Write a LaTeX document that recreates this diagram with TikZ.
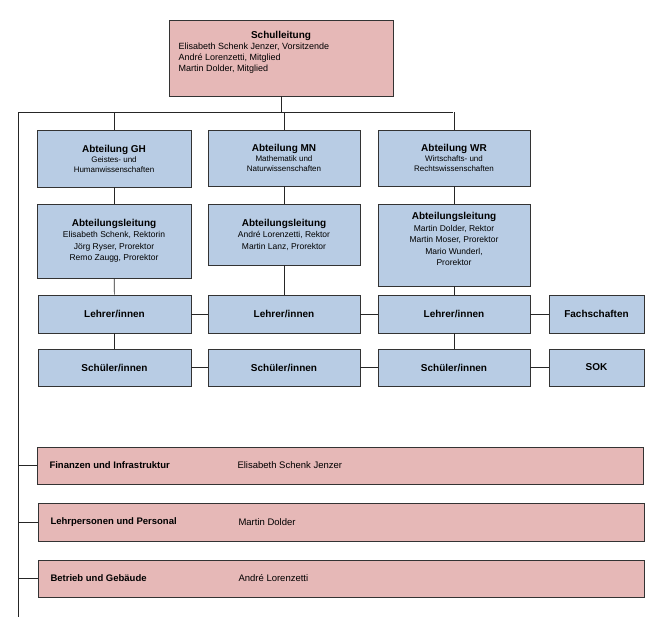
\documentclass[tikz,border=0pt]{standalone}
\usepackage{fontspec}
\setmainfont{Liberation Sans}
\begin{document}
\begin{tikzpicture}[x=1pt,y=-1pt,
 bx/.style={draw=black!80,line width=0.8pt,inner sep=0pt,align=center,font=\fontsize{9}{11}\selectfont},
 blue/.style={bx,fill=blueF},
 pink/.style={bx,fill=pinkF},
 ln/.style={draw=black!85,line width=0.7pt}]
\definecolor{blueF}{HTML}{B8CCE4}
\definecolor{pinkF}{HTML}{E6B8B7}
\useasboundingbox (0,0) rectangle (665,617);
\newcommand{\bxat}[6]{\node[#1,minimum width=#4-#2,minimum height=#5-#3] (#6) at ({(#2+#4)/2},{(#3+#5)/2}) {};}
\bxat{pink}{169}{20}{393}{96}{sl}
\node[align=left,font=\fontsize{9}{11}\selectfont,anchor=north west] at (175,28) {\hspace*{0pt}\makebox[205pt]{\textbf{\fontsize{10}{12}\selectfont Schulleitung}}\\Elisabeth Schenk Jenzer, Vorsitzende\\André Lorenzetti, Mitglied\\Martin Dolder, Mitglied};
\bxat{blue}{37}{130}{191}{187}{agh}
\bxat{blue}{208}{130}{360}{186}{amn}
\bxat{blue}{378}{130}{530}{186}{awr}
\node[align=center,font=\fontsize{8}{10}\selectfont] at (agh) {\textbf{\fontsize{10}{12}\selectfont Abteilung GH}\\Geistes- und\\Humanwissenschaften};
\node[align=center,font=\fontsize{8}{10}\selectfont] at (amn) {\textbf{\fontsize{10}{12}\selectfont Abteilung MN}\\Mathematik und\\Naturwissenschaften};
\node[align=center,font=\fontsize{8}{10}\selectfont] at (awr) {\textbf{\fontsize{10}{12}\selectfont Abteilung WR}\\Wirtschafts- und\\Rechtswissenschaften};
\bxat{blue}{37}{204}{191}{278}{lgh}
\bxat{blue}{208}{204}{360}{265}{lmn}
\bxat{blue}{378}{204}{530}{286}{lwr}
\node[align=center,font=\fontsize{8.5}{11.5}\selectfont] at (lgh) {\textbf{\fontsize{10}{12}\selectfont Abteilungsleitung}\\Elisabeth Schenk, Rektorin\\Jörg Ryser, Prorektor\\Remo Zaugg, Prorektor};
\node[align=center,font=\fontsize{8.5}{11.5}\selectfont] at (lmn) {\textbf{\fontsize{10}{12}\selectfont Abteilungsleitung}\\André Lorenzetti, Rektor\\Martin Lanz, Prorektor};
\node[align=center,font=\fontsize{8.5}{11.5}\selectfont,anchor=north] at (454,209) {\textbf{\fontsize{10}{12}\selectfont Abteilungsleitung}\\Martin Dolder, Rektor\\Martin Moser, Prorektor\\Mario Wunderl,\\Prorektor};
\fill[blueF] (379,279) rectangle (529,285.4);
\draw[black!80,line width=0.8pt] (lwr.south west) -- (lwr.south east);
\bxat{blue}{38}{295}{191}{333}{tgh}
\bxat{blue}{208}{295}{360}{333}{tmn}
\bxat{blue}{378}{295}{530}{333}{twr}
\bxat{blue}{549}{295}{644}{333}{fs}
\bxat{blue}{38}{349}{191}{386}{sgh}
\bxat{blue}{208}{349}{360}{386}{smn}
\bxat{blue}{378}{349}{530}{386}{swr}
\bxat{blue}{549}{349}{644}{386}{sok}
\foreach \n in {tgh,tmn,twr}{\node[font=\bfseries\fontsize{10}{12}\selectfont] at (\n) {Lehrer/innen};}
\foreach \n in {sgh,smn,swr}{\node[font=\bfseries\fontsize{10}{12}\selectfont] at (\n) {Schüler/innen};}
\node[font=\bfseries\fontsize{10}{12}\selectfont] at (fs) {Fachschaften};
\node[font=\bfseries\fontsize{10}{12}\selectfont] at (sok) {SOK};
\bxat{pink}{37}{447}{643}{484}{p1}
\bxat{pink}{38}{503}{644}{541}{p2}
\bxat{pink}{38}{560}{644}{597}{p3}
\node[anchor=west,font=\bfseries\fontsize{9.5}{12}\selectfont] at (46,465.5) {Finanzen und Infrastruktur};
\node[anchor=west,font=\fontsize{9.5}{12}\selectfont] at (234,465.5) {Elisabeth Schenk Jenzer};
\node[anchor=west,font=\bfseries\fontsize{9.5}{12}\selectfont] at (47,522) {Lehrpersonen und Personal};
\node[anchor=west,font=\fontsize{9.5}{12}\selectfont] at (235,522) {Martin Dolder};
\node[anchor=west,font=\bfseries\fontsize{9.5}{12}\selectfont] at (47,578.5) {Betrieb und Gebäude};
\node[anchor=west,font=\fontsize{9.5}{12}\selectfont] at (235,578.5) {André Lorenzetti};
\coordinate (tl) at (18,112);
\coordinate (tr) at (453,112);
\coordinate (bot) at (18,617);
\draw[ln] (sl.south) -- (sl.south |- tl);
\draw[ln] (bot) -- (tl) -- (tr);
\foreach \n in {agh,amn,awr}{\draw[ln] (\n.north) -- (\n.north |- tl);}
\draw[ln] (agh) -- (lgh); \draw[ln] (amn) -- (lmn); \draw[ln] (awr) -- (lwr);
\draw[ln] (lgh) -- (tgh); \draw[ln] (lmn) -- (tmn); \draw[ln] (lwr) -- (twr);
\draw[ln] (tgh) -- (sgh); \draw[ln] (twr) -- (swr);
\draw[ln] (tgh) -- (tmn); \draw[ln] (tmn) -- (twr); \draw[ln] (twr) -- (fs);
\draw[ln] (sgh) -- (smn); \draw[ln] (smn) -- (swr); \draw[ln] (swr) -- (sok);
\foreach \n in {p1,p2,p3}{\draw[ln] (\n.west) -- (\n.west -| bot);}
\end{tikzpicture}
\end{document}
